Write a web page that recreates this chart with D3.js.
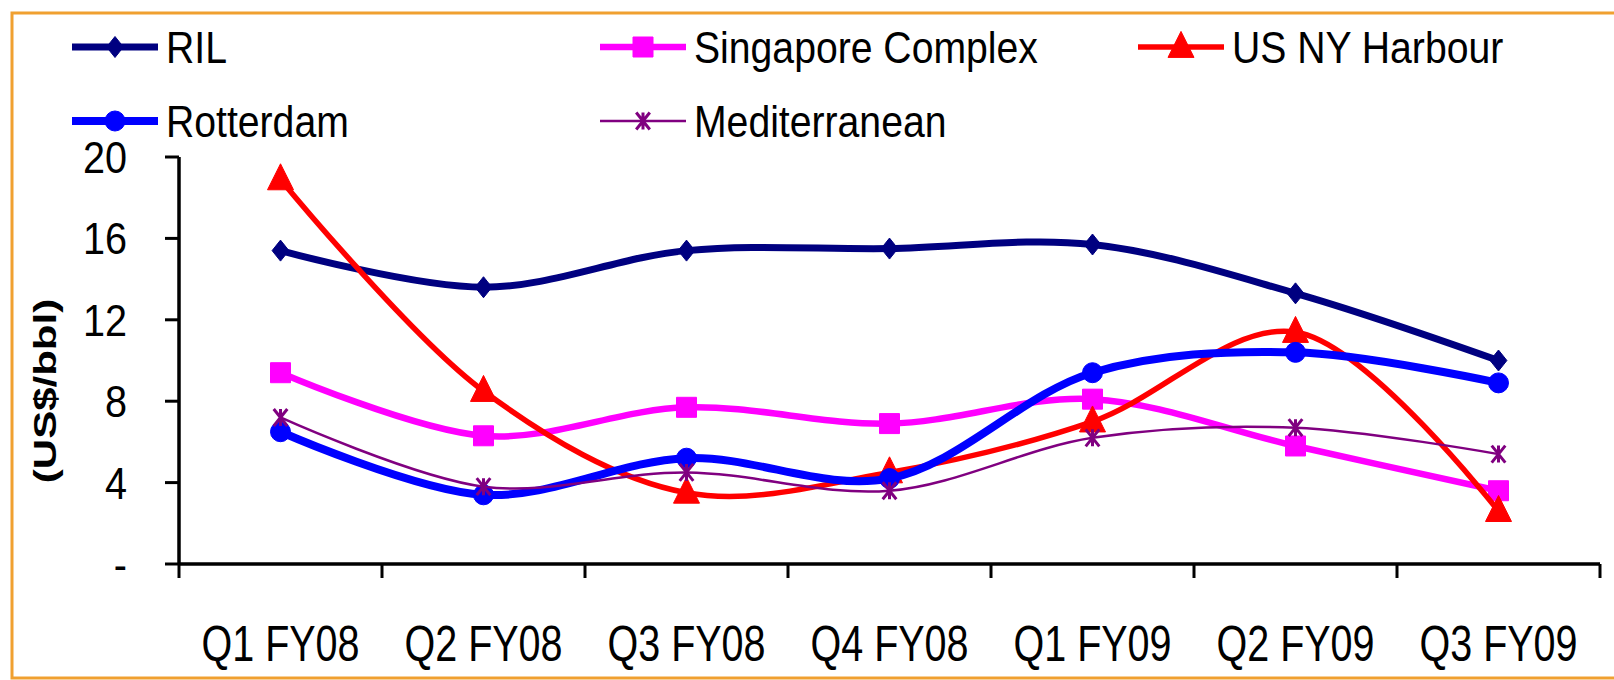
<!DOCTYPE html>
<html><head><meta charset="utf-8">
<script src="https://cdn.jsdelivr.net/npm/d3@7"></script>
<style>html,body{margin:0;padding:0;background:#fff;}svg{display:block;}</style>
</head><body>
<svg id="chart" width="1614" height="680"></svg>
<script>
const categories = ["Q1 FY08","Q2 FY08","Q3 FY08","Q4 FY08","Q1 FY09","Q2 FY09","Q3 FY09"];
const ril = [15.4, 13.6, 15.4, 15.5, 15.7, 13.3, 10.0];
const singapore = [9.4, 6.3, 7.7, 6.9, 8.1, 5.8, 3.6];
const usny = [18.9, 8.5, 3.5, 4.5, 7.0, 11.4, 2.6];
const rotterdam = [6.5, 3.4, 5.2, 4.2, 9.4, 10.4, 8.9];
const mediterranean = [7.2, 3.8, 4.5, 3.6, 6.2, 6.7, 5.4];
const yTicks = [0, 4, 8, 12, 16, 20];
const yTickLabels = ["-", "4", "8", "12", "16", "20"];
const yTitle = "(US$/bbl)";

const series = [
  {name:"RIL", values:ril, color:"#000080", width:7, marker:"diamond", size:21},
  {name:"Singapore Complex", values:singapore, color:"#FF00FF", width:6.5, marker:"square", size:20},
  {name:"US NY Harbour", values:usny, color:"#FF0000", width:5.5, marker:"triangle", size:26},
  {name:"Rotterdam", values:rotterdam, color:"#0000FF", width:8, marker:"circle", size:20},
  {name:"Mediterranean", values:mediterranean, color:"#800080", width:2.5, marker:"star", size:17}
];

const svg = d3.select("#chart");
const FONT = "'Liberation Sans', Arial, sans-serif";

// frame
svg.append("rect").attr("x",12).attr("y",13).attr("width",1640).attr("height",665)
  .attr("fill","#fff").attr("stroke","#F0A030").attr("stroke-width",3);

const pL = 179, pR = 1600, pT = 157, pB = 564;
const x = d3.scaleBand().domain(categories).range([pL, pR]).paddingInner(0).paddingOuter(0);
const y = d3.scaleLinear().domain([0, 20]).range([pB, pT]);

// axes
const ax = svg.append("g").attr("stroke","#000");
ax.append("line").attr("x1",pL).attr("x2",pL).attr("y1",y(20)).attr("y2",pB).attr("stroke-width",3.5);
ax.append("line").attr("x1",pL).attr("x2",pR).attr("y1",pB).attr("y2",pB).attr("stroke-width",3.5);
yTicks.forEach(t => {
  ax.append("line").attr("x1",pL-14).attr("x2",pL).attr("y1",y(t)).attr("y2",y(t)).attr("stroke-width",3);
});
const bounds = categories.map(c => x(c)).concat([pR]);
bounds.forEach(b => {
  ax.append("line").attr("x1",b).attr("x2",b).attr("y1",pB).attr("y2",pB+14).attr("stroke-width",3);
});

// y tick labels
yTicks.forEach((t,i) => {
  svg.append("text").attr("transform",`translate(127,${y(t)+16}) scale(0.9,1)`)
    .attr("text-anchor","end").attr("font-family",FONT).attr("font-size",44).attr("fill","#000")
    .text(yTickLabels[i]);
});
// x tick labels
categories.forEach(c => {
  svg.append("text").attr("transform",`translate(${x(c)+x.bandwidth()/2},661) scale(0.79,1)`)
    .attr("text-anchor","middle").attr("font-family",FONT).attr("font-size",50).attr("fill","#000")
    .text(c);
});
// y title
svg.append("text").attr("transform",`translate(56,391) rotate(-90) scale(1,0.75)`)
  .attr("text-anchor","middle").attr("font-family",FONT).attr("font-weight","bold").attr("font-size",42)
  .attr("fill","#000").text(yTitle);

function markerPath(type, s){
  switch(type){
    case "diamond": return `M0,${-s/2}L${s/2.5},0L0,${s/2}L${-s/2.5},0Z`;
    case "square": return `M${-s/2},${-s/2}H${s/2}V${s/2}H${-s/2}Z`;
    case "triangle": return `M0,${-s*0.6}L${s/2},${s*0.4}L${-s/2},${s*0.4}Z`;
    case "circle": return d3.symbol().type(d3.symbolCircle).size(Math.PI*(s/2)*(s/2))();
    case "star": { const h=s/2; return `M${-h*0.8},${-h}L${h*0.8},${h}M${h*0.8},${-h}L${-h*0.8},${h}M0,${-h}L0,${h}`; }
  }
}
function drawMarker(g, s, cx, cy){
  const p = g.append("path").attr("transform",`translate(${cx},${cy})`).attr("d",markerPath(s.marker,s.size));
  if (s.marker === "star") p.attr("fill","none").attr("stroke",s.color).attr("stroke-width",3);
  else p.attr("fill",s.color).attr("stroke",s.color).attr("stroke-width",1);
}

const line = d3.line()
  .x((d,i) => x(categories[i]) + x.bandwidth()/2)
  .y(d => y(d))
  .curve(d3.curveCatmullRom.alpha(0.5));

series.forEach(s => {
  const g = svg.append("g");
  g.append("path").attr("d", line(s.values)).attr("fill","none").attr("stroke",s.color)
    .attr("stroke-width",s.width).attr("stroke-linejoin","round");
  s.values.forEach((v,i) => drawMarker(g, s, x(categories[i]) + x.bandwidth()/2, y(v)));
});

// legend
const legendPos = [
  {lx:72, ly:47}, {lx:600, ly:47}, {lx:1138, ly:47},
  {lx:72, ly:121}, {lx:600, ly:121}
];
series.forEach((s,i) => {
  const p = legendPos[i];
  const g = svg.append("g");
  g.append("line").attr("x1",p.lx).attr("x2",p.lx+86).attr("y1",p.ly).attr("y2",p.ly)
    .attr("stroke",s.color).attr("stroke-width",s.width);
  drawMarker(g, s, p.lx+43, p.ly);
  g.append("text").attr("transform",`translate(${p.lx+94},${p.ly+16}) scale(0.89,1)`)
    .attr("font-family",FONT).attr("font-size",44).attr("fill","#000").text(s.name);
});
</script>
</body></html>
